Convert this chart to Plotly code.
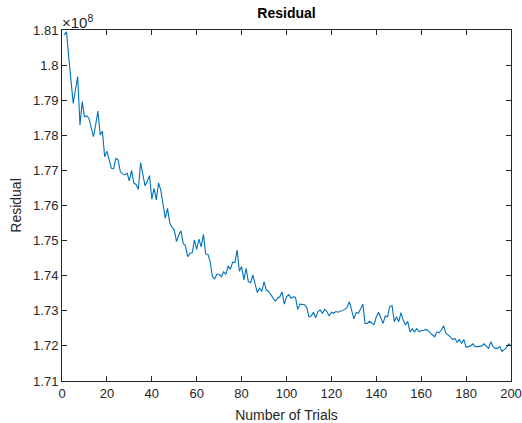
import plotly.graph_objects as go

trials = list(range(1, 201))
residual_e8 = [
    1.8086, 1.8095, 1.8022, 1.7949, 1.7891, 1.7930, 1.7967, 1.7829, 1.7896, 1.7853,
    1.7855, 1.7848, 1.7820, 1.7796, 1.7830, 1.7869, 1.7801, 1.7812, 1.7739, 1.7755,
    1.7730, 1.7706, 1.7705, 1.7734, 1.7730, 1.7696, 1.7690, 1.7687, 1.7692, 1.7670,
    1.7700, 1.7664, 1.7660, 1.7646, 1.7722, 1.7692, 1.7656, 1.7670, 1.7685, 1.7618,
    1.7649, 1.7616, 1.7664, 1.7644, 1.7606, 1.7564, 1.7592, 1.7550, 1.7538, 1.7530,
    1.7497, 1.7516, 1.7528, 1.7492, 1.7485, 1.7454, 1.7464, 1.7465, 1.7502, 1.7475,
    1.7504, 1.7482, 1.7518, 1.7462, 1.7461, 1.7440, 1.7397, 1.7391, 1.7404, 1.7404,
    1.7397, 1.7411, 1.7404, 1.7428, 1.7418, 1.7438, 1.7438, 1.7473, 1.7413, 1.7426,
    1.7388, 1.7421, 1.7383, 1.7380, 1.7402, 1.7373, 1.7352, 1.7364, 1.7355, 1.7383,
    1.7359, 1.7355, 1.7345, 1.7336, 1.7328, 1.7336, 1.7340, 1.7354, 1.7319, 1.7340,
    1.7346, 1.7336, 1.7340, 1.7339, 1.7304, 1.7319, 1.7318, 1.7317, 1.7310, 1.7283,
    1.7285, 1.7296, 1.7280, 1.7298, 1.7302, 1.7293, 1.7304, 1.7298, 1.7285, 1.7296,
    1.7293, 1.7298, 1.7296, 1.7298, 1.7302, 1.7304, 1.7310, 1.7326, 1.7302, 1.7277,
    1.7295, 1.7293, 1.7305, 1.7319, 1.7264, 1.7264, 1.7270, 1.7266, 1.7260, 1.7283,
    1.7296, 1.7280, 1.7264, 1.7285, 1.7283, 1.7312, 1.7315, 1.7269, 1.7283, 1.7269,
    1.7295, 1.7273, 1.7260, 1.7270, 1.7240, 1.7249, 1.7240, 1.7249, 1.7240, 1.7244,
    1.7244, 1.7247, 1.7244, 1.7237, 1.7232, 1.7226, 1.7240, 1.7237, 1.7246, 1.7257,
    1.7236, 1.7231, 1.7226, 1.7218, 1.7221, 1.7210, 1.7218, 1.7207, 1.7218, 1.7196,
    1.7198, 1.7200, 1.7206, 1.7198, 1.7198, 1.7200, 1.7200, 1.7206, 1.7198, 1.7193,
    1.7212, 1.7198, 1.7193, 1.7193, 1.7198, 1.7184, 1.7190, 1.7195, 1.7206, 1.7200,
]
residual = [v * 1e8 for v in residual_e8]

x_ticks = list(range(0, 201, 20))
y_tick_labels = ["1.71", "1.72", "1.73", "1.74", "1.75", "1.76", "1.77", "1.78", "1.79", "1.8", "1.81"]
y_ticks = [float(s) * 1e8 for s in y_tick_labels]

FONT = "Liberation Sans, Arial, Helvetica, sans-serif"
AX = "#262626"

fig = go.Figure()
fig.add_trace(go.Scatter(
    x=trials, y=residual, mode="lines",
    line=dict(color="#0072BD", width=1.1),
    showlegend=False,
))

fig.update_layout(
    width=522, height=423,
    paper_bgcolor="white", plot_bgcolor="white",
    margin=dict(l=62, r=11, t=30, b=42),
    font=dict(family=FONT, size=13, color=AX),
    title=dict(text="<b>Residual</b>", x=0.5, xref="paper", xanchor="center",
               y=1 - 13 / 423, yref="container", yanchor="middle",
               font=dict(family=FONT, size=14, color="black")),
    xaxis=dict(
        range=[0, 200], tickvals=x_ticks, ticktext=[str(v) for v in x_ticks],
        showgrid=False, zeroline=False,
        showline=True, linecolor=AX, linewidth=1, mirror="ticks",
        ticks="inside", ticklen=5, tickcolor=AX, tickwidth=1,
        tickfont=dict(size=13, color=AX),
        title=dict(text="Number of Trials", font=dict(size=14, color=AX), standoff=10),
        automargin=False,
    ),
    yaxis=dict(
        range=[1.71e8, 1.81e8], tickvals=y_ticks, ticktext=y_tick_labels,
        showgrid=False, zeroline=False,
        showline=True, linecolor=AX, linewidth=1, mirror="ticks",
        ticks="inside", ticklen=5, tickcolor=AX, tickwidth=1,
        tickfont=dict(size=13, color=AX),
        title=dict(text="Residual", font=dict(size=14, color=AX), standoff=8),
        automargin=False,
    ),
    annotations=[dict(
        text="×10<sup>8</sup>", xref="paper", yref="paper", x=0, y=1,
        xanchor="left", yanchor="bottom", showarrow=False,
        font=dict(family=FONT, size=15, color=AX), yshift=-3, xshift=-2,
    )],
)

fig.write_html(
    "out.html",
    config={"displayModeBar": False},
    post_script="document.body.style.margin='0';document.body.style.overflow='hidden';",
)
